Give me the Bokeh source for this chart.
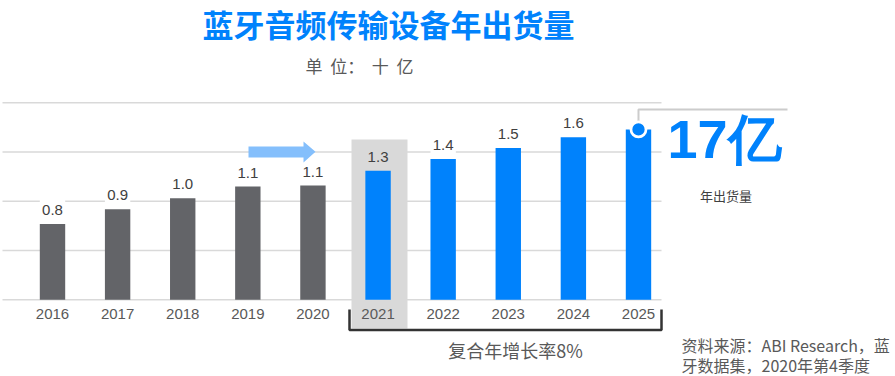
from bokeh.plotting import figure
from bokeh.models import Range1d
from bokeh.core.properties import value
from bokeh.embed import file_html
from bokeh.resources import INLINE

# ---- data ----
years = [2016, 2017, 2018, 2019, 2020, 2021, 2022, 2023, 2024, 2025]
shipments = [0.77, 0.92, 1.03, 1.15, 1.16, 1.31, 1.43, 1.54, 1.65, 1.73]
value_labels = ["0.8", "0.9", "1.0", "1.1", "1.1", "1.3", "1.4", "1.5", "1.6"]
year_labels = ["2016", "2017", "2018", "2019", "2020", "2021", "2022", "2023", "2024", "2025"]
grid_values = [0.0, 0.5, 1.0, 1.5, 2.0]
forecast_start = 2021
highlight_year = 2021

NB = "\u00a0\u00a0"
title_text = "蓝牙音频传输设备年出货量"
unit_text = "单" + NB + "位：" + NB + "十" + NB + "亿"
cagr_text = "复合年增长率8%"
big_text = "17亿"
big_sub = "年出货量"
source_1 = "资料来源：ABI Research，蓝"
source_2 = "牙数据集，2020年第4季度"

# ---- styling ----
BLUE = "#0082FC"
GRAY_BAR = "#636468"
LIGHT = "#D9D9D9"
TXT = "#595959"
DARK_TXT = "#404040"
CJK = value("Noto Sans CJK SC")
LAT = value("Liberation Sans")

W, H = 895, 376
OFF = 0
PX_YEAR = 65.11
PX_UNIT = 98.5
x_start = 2016 - (52 - OFF) / PX_YEAR
x_end = x_start + W / PX_YEAR
y_end = (299.3 - OFF) / PX_UNIT
y_start = y_end - H / PX_UNIT


def sx(px):
    return x_start + (px - OFF) / PX_YEAR


def sy(py):
    return y_end - (py - OFF) / PX_UNIT


p = figure(width=W, height=H, output_backend="svg", toolbar_location=None,
           x_range=Range1d(x_start, x_end), y_range=Range1d(y_start, y_end),
           x_axis_type=None, y_axis_type=None, min_border=0)
p.outline_line_color = None
p.grid.visible = False
p.background_fill_color = "white"

# gridlines
p.segment(x0=[sx(2)] * len(grid_values), x1=[sx(661)] * len(grid_values),
          y0=grid_values, y1=grid_values, line_color=LIGHT, line_width=1.5)

bw = 0.39
# white label backdrops
p.vbar(x=years[:-1], bottom=shipments[:-1], top=[v + 0.27 for v in shipments[:-1]],
       width=bw, fill_color="white", line_color=None)

# highlight box for forecast start
p.quad(left=[sx(351)], right=[sx(407)], top=[sy(139)], bottom=[sy(328)],
       fill_color=LIGHT, line_color=None)

colors = [BLUE if y >= forecast_start else GRAY_BAR for y in years]
p.vbar(x=years, top=shipments, bottom=0, width=bw, fill_color=colors, line_color=None)

# value labels
p.text(x=years[:-1], y=shipments[:-1], text=value_labels, y_offset=-14,
       text_align="center", text_baseline="middle", text_font=LAT,
       text_font_size="15px", text_color=DARK_TXT)

# year labels
p.text(x=years, y=[sy(313)] * len(years), text=year_labels,
       text_align="center", text_baseline="middle", text_font=LAT,
       text_font_size="15px", text_color=TXT)

# arrow
ay = sy(151.3)
p.patch(x=[sx(248), sx(303), sx(303), sx(315), sx(303), sx(303), sx(248)],
        y=[sy(146), sy(146), sy(141), ay, sy(162), sy(157), sy(157)],
        fill_color="#84BFFC", line_color=None)

# bracket
p.line(x=[sx(349), sx(349), sx(661), sx(661)],
       y=[sy(309), sy(329.5), sy(329.5), sy(309)],
       line_color="#333333", line_width=2.5)
p.text(x=[sx(515)], y=[sy(349)], text=[cagr_text], text_align="center",
       text_baseline="middle", text_font=CJK, text_font_size="18px", text_color=TXT)

# callout connector + marker
p.line(x=[years[-1], years[-1], sx(787)], y=[shipments[-1], sy(109), sy(109)],
       line_color="#CCCCCC", line_width=2)
p.scatter(x=[years[-1]], y=[shipments[-1]], size=15, fill_color=BLUE,
          line_color="white", line_width=2.7)
p.text(x=[sx(667)], y=[sy(138)], text=[big_text], text_align="left",
       text_baseline="middle", text_font=LAT, text_font_style="bold",
       text_font_size="54px", text_color=BLUE)
p.text(x=[sx(725.5)], y=[sy(194.5)], text=[big_sub], text_align="center",
       text_baseline="middle", text_font=CJK, text_font_size="13px", text_color=DARK_TXT)

# titles
p.text(x=[sx(388)], y=[sy(23)], text=[title_text], text_align="center",
       text_baseline="middle", text_font=CJK, text_font_style="bold",
       text_font_size="31px", text_color=BLUE)
p.text(x=[sx(359)], y=[sy(65)], text=[unit_text], text_align="center",
       text_baseline="middle", text_font=CJK, text_font_size="17px", text_color=TXT)

# source
p.text(x=[sx(681)], y=[sy(344.5)], text=[source_1], text_align="left",
       text_baseline="middle", text_font=CJK, text_font_size="16px", text_color=TXT)
p.text(x=[sx(681)], y=[sy(364.5)], text=[source_2], text_align="left",
       text_baseline="middle", text_font=CJK, text_font_size="16px", text_color=TXT)

open("out.html", "w").write(file_html(p, INLINE))
